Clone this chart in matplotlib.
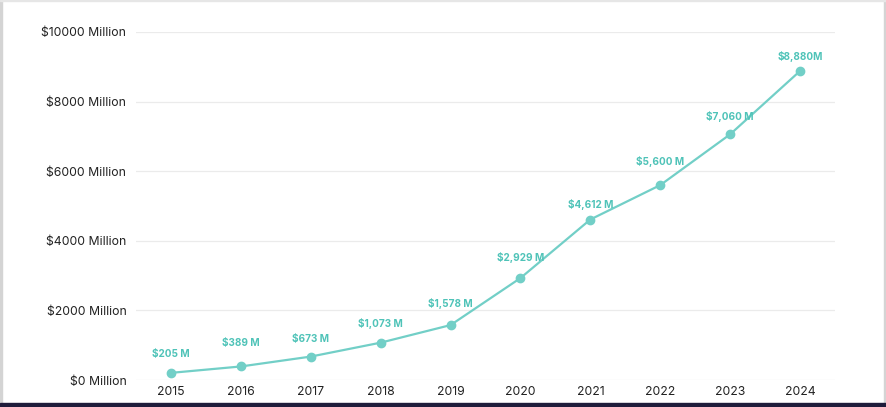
import matplotlib.pyplot as plt
from matplotlib.patches import Rectangle

years = ['2015', '2016', '2017', '2018', '2019', '2020', '2021', '2022', '2023', '2024']
values = [205, 389, 673, 1073, 1578, 2929, 4612, 5600, 7060, 8880]
point_labels = ['$205 M', '$389 M', '$673 M', '$1,073 M', '$1,578 M', '$2,929 M',
                '$4,612 M', '$5,600 M', '$7,060 M', '$8,880M']
y_ticks = [0, 2000, 4000, 6000, 8000, 10000]

# vertical gap (px) between each point and its label centre
label_gap = [19, 23, 18, 19, 22, 21, 15, 24, 18, 14]

plt.rcParams['font.family'] = ['Inter', 'DejaVu Sans']

fig = plt.figure(figsize=(8.87, 4.07), dpi=100)
ax = fig.add_axes([136 / 887, 1 - 380 / 407, (835 - 136) / 887, (380 - 32) / 407])

x = list(range(len(years)))
ax.plot(x, values, color='#72cfc7', lw=1.6, marker='o', ms=6, zorder=3)
for xi, v, lab, g in zip(x, values, point_labels, label_gap):
    ax.annotate(lab, (xi, v), xytext=(0, g * 0.72), textcoords='offset points',
                ha='center', va='center', fontsize=7.2, color='#4fc3b8', fontweight='bold')

ax.set_xlim(-0.5, len(years) - 0.5)
ax.set_ylim(0, 10000)
ax.set_xticks(x)
ax.set_xticklabels(years)
ax.set_yticks(y_ticks)
ax.set_yticklabels(['${} Million'.format(t) for t in y_ticks])
ax.tick_params(length=0, labelsize=8.8, labelcolor='#222222')
ax.tick_params(axis='y', pad=7)
ax.tick_params(axis='x', pad=4)
ax.grid(axis='y', color='#ebebeb', lw=0.9)
ax.set_axisbelow(True)
for s in ax.spines.values():
    s.set_visible(False)

# frame pieces of the screenshot
fig.patches.append(Rectangle((0, 0), 2 / 887, 1, transform=fig.transFigure, color='#d4d4d4'))
fig.patches.append(Rectangle((884 / 887, 0), 3 / 887, 1, transform=fig.transFigure, color='#d4d4d4'))
fig.patches.append(Rectangle((0, 0), 1, 4 / 407, transform=fig.transFigure, color='#1f1c3b'))
fig.patches.append(Rectangle((0, 406 / 407), 1, 1 / 407, transform=fig.transFigure, color='#e6e6e6'))

fig.savefig('out.png', dpi=100)
